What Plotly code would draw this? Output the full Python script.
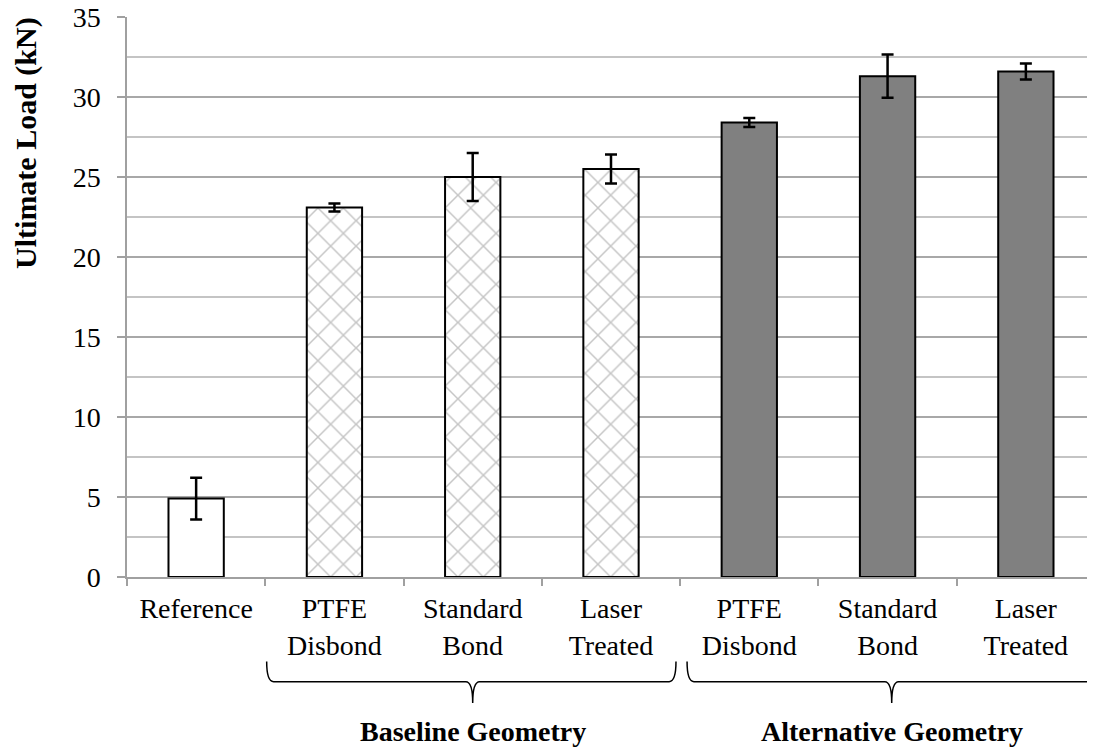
import plotly.graph_objects as go

categories = ["Reference", "PTFE Disbond (B)", "Standard Bond (B)", "Laser Treated (B)",
              "PTFE Disbond (A)", "Standard Bond (A)", "Laser Treated (A)"]
tick_labels = ["Reference", "PTFE<br>Disbond", "Standard<br>Bond", "Laser<br>Treated",
               "PTFE<br>Disbond", "Standard<br>Bond", "Laser<br>Treated"]
loads = [4.9, 23.1, 25.0, 25.5, 28.4, 31.3, 31.6]
errors = [1.3, 0.25, 1.5, 0.9, 0.28, 1.35, 0.5]
groups = ["Reference", "Baseline", "Baseline", "Baseline", "Alternative", "Alternative", "Alternative"]
group_labels = ["Baseline Geometry", "Alternative Geometry"]

FONT = "Liberation Serif, Times New Roman, serif"

fig = go.Figure()

styles = {
    "Reference": dict(color="white", pattern=None),
    "Baseline": dict(color="white", pattern=dict(shape="x", fgcolor="#8c8c8c", bgcolor="white",
                                                 size=18, solidity=0.16)),
    "Alternative": dict(color="#808080", pattern=None),
}

for g in ["Reference", "Baseline", "Alternative"]:
    idx = [i for i, gg in enumerate(groups) if gg == g]
    marker = dict(color=styles[g]["color"], line=dict(color="black", width=2))
    if styles[g]["pattern"]:
        marker["pattern"] = styles[g]["pattern"]
    fig.add_trace(go.Bar(
        x=[categories[i] for i in idx],
        y=[loads[i] for i in idx],
        error_y=dict(type="data", array=[errors[i] for i in idx], color="black",
                     thickness=2.5, width=6),
        marker=marker,
        width=0.4,
        showlegend=False,
    ))

# page body has an 8px margin, so the figure is sized/offset to compensate
fig.update_layout(
    width=1087, height=740,
    margin=dict(l=119, r=0, t=9, b=171, autoexpand=False),
    paper_bgcolor="white", plot_bgcolor="white",
    font=dict(family=FONT, size=28, color="black"),
    barmode="overlay",
)

fig.update_xaxes(
    type="category",
    categoryorder="array", categoryarray=categories,
    tickvals=categories, ticktext=tick_labels,
    tickson="boundaries", ticks="outside", ticklen=7, tickcolor="#a0a0a0", tickwidth=1.5,
    showline=True, linecolor="#a0a0a0", linewidth=1.5,
    showgrid=False, automargin=False, ticklabelstandoff=6,
    range=[-0.5, 6.5],
    tickfont=dict(family=FONT, size=28, color="black"),
)

fig.update_yaxes(
    range=[0, 35], dtick=5, tick0=0,
    ticks="outside", ticklen=8, tickcolor="#a0a0a0", tickwidth=1.5,
    showline=True, linecolor="#a0a0a0", linewidth=1.5,
    showgrid=True, gridcolor="#a8a8a8", gridwidth=1.5,
    minor=dict(dtick=2.5, showgrid=True, gridcolor="#c4c4c4", gridwidth=1.5),
    zeroline=False, automargin=False, ticklabelstandoff=11,
    ticklabeloverflow="allow",
    tickfont=dict(family=FONT, size=28, color="black"),
)

# y title
fig.add_annotation(
    text="<b>Ultimate Load (kN)</b>", textangle=-90,
    xref="paper", yref="paper", x=-0.1044, y=0.775, xanchor="center", yanchor="middle",
    showarrow=False, font=dict(family=FONT, size=30, color="black"),
)

# braces
def brace(x0, xc, x1, ytop, ymid, ybot, r=0.05):
    return (f"M {x0},{ytop} Q {x0},{ymid} {x0 + r},{ymid} L {xc - r},{ymid} "
            f"Q {xc},{ymid} {xc},{ybot} Q {xc},{ymid} {xc + r},{ymid} "
            f"L {x1 - r},{ymid} Q {x1},{ymid} {x1},{ytop}")

ytop, ymid, ybot = -0.151, -0.187, -0.225
fig.add_shape(type="path", xref="x", yref="paper",
              path=brace(0.51, 2.0, 3.47, ytop, ymid, ybot),
              line=dict(color="black", width=1.5))
fig.add_shape(type="path", xref="x", yref="paper",
              path=brace(3.55, 5.03, 6.6, ytop, ymid, ybot),
              line=dict(color="black", width=1.5))

fig.add_annotation(text="<b>" + group_labels[0] + "</b>", xref="x", yref="paper",
                   x=2.0, y=-0.275, showarrow=False, xanchor="center", yanchor="middle",
                   font=dict(family=FONT, size=28, color="black"))
fig.add_annotation(text="<b>" + group_labels[1] + "</b>", xref="x", yref="paper",
                   x=5.03, y=-0.275, showarrow=False, xanchor="center", yanchor="middle",
                   font=dict(family=FONT, size=28, color="black"))

fig.write_html("out.html")
